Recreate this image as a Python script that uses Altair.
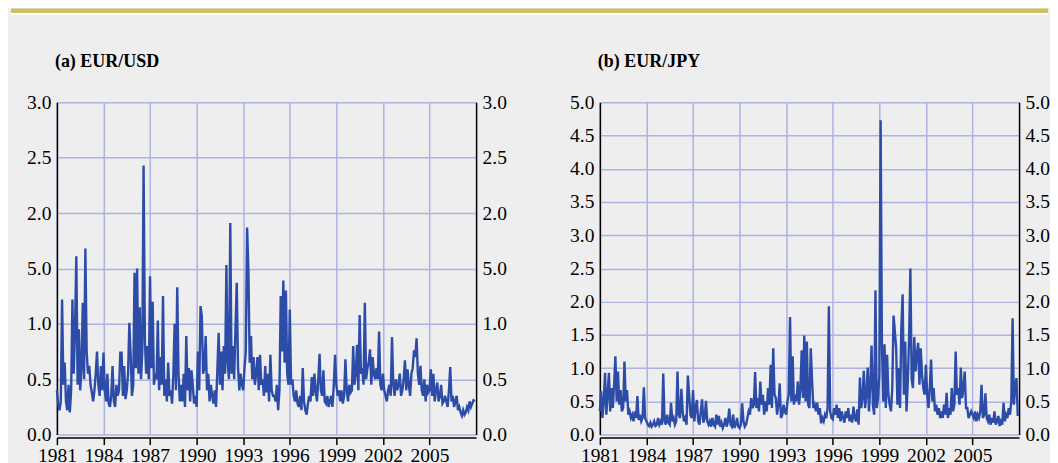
import altair as alt
import pandas as pd

# ---------------- data (monthly readings, 1981-2007) ----------------
first_year = 1981
year_ticks = [1981, 1984, 1987, 1990, 1993, 1996, 1999, 2002, 2005]
usd_ticks = [0.0, 0.5, 1.0, 1.5, 2.0, 2.5, 3.0]
jpy_ticks = [0.0, 0.5, 1.0, 1.5, 2.0, 2.5, 3.0, 3.5, 4.0, 4.5, 5.0]
panel_titles = ["(a) EUR/USD", "(b) EUR/JPY"]

eur_usd = [
    0.40, 0.28, 0.22, 0.30, 1.22, 0.45, 0.65, 0.30, 0.22, 0.45, 0.20, 0.40,  # 1981
    1.22, 0.55, 0.95, 1.61, 0.45, 0.95, 0.40, 0.60, 1.19, 0.50, 1.68, 0.75,  # 1982
    0.55, 0.62, 0.45, 0.38, 0.30, 0.40, 0.55, 0.75, 0.45, 0.35, 0.62, 0.40,  # 1983
    0.74, 0.40, 0.30, 0.55, 0.28, 0.25, 0.35, 0.62, 0.30, 0.25, 0.45, 0.35,  # 1984
    0.40, 0.74, 0.74, 0.35, 0.62, 0.32, 0.40, 0.55, 1.01, 0.72, 0.35, 0.45,  # 1985
    1.46, 0.60, 1.50, 0.55, 1.15, 0.50, 0.75, 2.43, 0.85, 0.55, 0.80, 0.50,  # 1986
    1.43, 0.60, 1.20, 0.45, 0.55, 0.50, 1.03, 0.40, 0.70, 0.45, 1.25, 0.35,  # 1987
    0.50, 0.30, 0.65, 0.35, 0.40, 0.28, 0.55, 1.00, 0.40, 1.33, 0.55, 0.30,  # 1988
    0.45, 0.30, 0.55, 0.25, 0.89, 0.40, 0.60, 0.30, 0.58, 0.45, 0.28, 0.35,  # 1989
    0.25, 0.75, 0.40, 1.16, 1.07, 0.55, 0.60, 0.89, 0.40, 0.55, 0.30, 0.45,  # 1990
    0.35, 0.28, 0.40, 0.25, 0.58, 0.92, 0.45, 0.75, 0.40, 0.80, 0.55, 1.53,  # 1991
    0.65, 0.50, 1.91, 0.55, 0.80, 0.50, 0.95, 1.37, 0.60, 0.40, 0.55, 0.45,  # 1992
    0.40, 0.60, 0.75, 1.87, 1.49, 0.65, 0.89, 0.50, 0.70, 0.45, 0.55, 0.70,  # 1993
    0.40, 0.72, 0.45, 0.50, 0.35, 0.62, 0.38, 0.55, 0.30, 0.72, 0.40, 0.35,  # 1994
    0.35, 0.30, 0.45, 0.22, 0.40, 1.25, 0.75, 1.39, 0.65, 1.30, 0.55, 0.45,  # 1995
    1.13, 0.45, 0.50, 0.35, 0.30, 0.40, 0.28, 0.25, 0.35, 0.22, 0.60, 0.30,  # 1996
    0.22, 0.18, 0.28, 0.35, 0.30, 0.52, 0.35, 0.55, 0.40, 0.30, 0.50, 0.73,  # 1997
    0.40, 0.35, 0.58, 0.30, 0.28, 0.35, 0.25, 0.30, 0.35, 0.25, 0.45, 0.72,  # 1998
    0.45, 0.35, 0.40, 0.30, 0.40, 0.28, 0.35, 0.68, 0.40, 0.30, 0.45, 0.38,  # 1999
    0.40, 0.80, 0.45, 0.55, 0.81, 0.40, 1.08, 0.55, 0.60, 0.45, 1.19, 0.50,  # 2000
    0.60, 0.65, 0.77, 0.45, 0.70, 0.55, 0.50, 0.60, 0.50, 0.93, 0.45, 0.40,  # 2001
    0.55, 0.40, 0.35, 0.30, 0.40, 0.45, 0.35, 0.88, 0.45, 0.35, 0.50, 0.40,  # 2002
    0.45, 0.55, 0.35, 0.40, 0.50, 0.67, 0.40, 0.59, 0.45, 0.35, 0.55, 0.60,  # 2003
    0.76, 0.70, 0.87, 0.55, 0.45, 0.62, 0.40, 0.35, 0.50, 0.30, 0.45, 0.38,  # 2004
    0.40, 0.59, 0.35, 0.55, 0.30, 0.40, 0.47, 0.30, 0.35, 0.45, 0.28, 0.30,  # 2005
    0.35, 0.30, 0.25, 0.40, 0.61, 0.30, 0.35, 0.25, 0.30, 0.35, 0.22, 0.25,  # 2006
    0.20, 0.17, 0.22, 0.18, 0.20, 0.25, 0.22, 0.30, 0.25, 0.28, 0.31, 0.30,  # 2007
]

eur_jpy = [
    0.35, 0.65, 0.25, 0.50, 0.93, 0.30, 0.60, 0.93, 0.35, 0.70, 0.40, 0.75,  # 1981
    1.18, 0.50, 0.95, 0.45, 0.67, 0.35, 0.40, 1.10, 0.50, 0.67, 0.30, 0.35,  # 1982
    0.25, 0.30, 0.20, 0.35, 0.25, 0.58, 0.22, 0.30, 0.20, 0.25, 0.71, 0.25,  # 1983
    0.20, 0.15, 0.13, 0.18, 0.12, 0.15, 0.20, 0.13, 0.15, 0.25, 0.15, 0.20,  # 1984
    0.15, 0.92, 0.20, 0.15, 0.30, 0.18, 0.15, 0.48, 0.20, 0.25, 0.15, 0.20,  # 1985
    0.95, 0.30, 0.25, 0.69, 0.35, 0.20, 0.25, 0.15, 0.89, 0.60, 0.30, 0.25,  # 1986
    0.67, 0.20, 0.40, 0.52, 0.20, 0.15, 0.35, 0.53, 0.18, 0.25, 0.51, 0.20,  # 1987
    0.15, 0.20, 0.12, 0.25, 0.15, 0.12, 0.30, 0.15, 0.28, 0.12, 0.18, 0.10,  # 1988
    0.15, 0.25, 0.12, 0.20, 0.39, 0.15, 0.12, 0.30, 0.10, 0.15, 0.25, 0.12,  # 1989
    0.10, 0.15, 0.47, 0.20, 0.12, 0.15, 0.25, 0.35, 0.30, 0.55, 0.40, 0.45,  # 1990
    0.94, 0.40, 0.55, 0.35, 0.80, 0.45, 0.60, 0.30, 0.50, 0.35, 0.70, 0.45,  # 1991
    1.05, 0.40, 1.30, 0.60, 0.55, 0.30, 0.45, 0.77, 0.25, 0.30, 0.45, 0.35,  # 1992
    0.30, 0.50, 0.60, 1.77, 0.50, 1.18, 0.45, 0.60, 0.50, 0.80, 0.45, 0.70,  # 1993
    1.27, 0.55, 1.49, 0.50, 1.40, 0.45, 0.40, 1.30, 0.82, 0.40, 0.45, 0.35,  # 1994
    0.48, 0.30, 0.40, 0.17, 0.25, 0.20, 0.30, 0.25, 0.40, 1.93, 0.35, 0.25,  # 1995
    0.23, 0.40, 0.30, 0.45, 0.25, 0.40, 0.20, 0.35, 0.25, 0.18, 0.35, 0.25,  # 1996
    0.40, 0.20, 0.30, 0.18, 0.42, 0.25, 0.20, 0.38, 0.15, 0.86, 0.40, 0.55,  # 1997
    0.96, 0.40, 0.60, 1.01, 0.35, 0.75, 1.34, 0.45, 0.30, 2.17, 0.40, 0.55,  # 1998
    0.90, 4.73, 1.36, 0.50, 1.36, 0.40, 1.20, 0.60, 0.45, 0.35, 0.70, 1.79,  # 1999
    1.55, 1.30, 0.45, 1.00, 0.40, 1.60, 2.11, 0.60, 1.40, 0.35, 0.80, 1.45,  # 2000
    2.50, 0.83, 0.70, 1.47, 0.95, 1.20, 1.38, 0.75, 1.30, 0.90, 0.70, 0.60,  # 2001
    1.05, 0.60, 0.40, 0.70, 1.13, 0.50, 0.70, 0.35, 0.45, 0.30, 0.40, 0.25,  # 2002
    0.35, 0.25, 0.45, 0.30, 0.63, 0.25, 0.40, 0.30, 0.70, 0.35, 0.45, 1.25,  # 2003
    0.60, 0.70, 0.45, 1.01, 0.55, 0.70, 0.95, 0.40, 0.40, 0.25, 0.30, 0.35,  # 2004
    0.30, 0.25, 0.35, 0.20, 0.30, 0.25, 0.35, 0.75, 0.25, 0.30, 0.62, 0.25,  # 2005
    0.20, 0.30, 0.15, 0.25, 0.18, 0.35, 0.15, 0.20, 0.28, 0.13, 0.20, 0.15,  # 2006
    0.48, 0.20, 0.30, 0.25, 0.40, 0.30, 0.50, 1.75, 0.45, 0.73, 0.85, 0.28,  # 2007
]

LINE = "#2c4ca8"
GRID = "#adb2e3"
FONT = "Liberation Serif"


def frame(values):
    return pd.DataFrame({
        "t": [first_year + i / 12 for i in range(len(values))],
        "v": values,
    })


def panel(values, title, ymax, yticks, label_expr, band):
    df = frame(values)
    xenc = alt.X(
        "t:Q",
        scale=alt.Scale(domain=[1981, 2008], nice=False, zero=False),
        axis=alt.Axis(values=year_ticks, format="d", grid=True, offset=3,
                      tickSize=7, tickWidth=1.5, tickColor="black",
                      labelFlush=False, labelOverlap=False, labelPadding=2),
        title=None,
    )
    yscale = alt.Scale(domain=[0, ymax], nice=False, zero=True)
    line = alt.Chart(df).mark_line(color=LINE, strokeWidth=2.4,
                                   strokeJoin="miter").encode(
        x=xenc,
        y=alt.Y("v:Q", scale=yscale, title=None,
                axis=alt.Axis(orient="left", values=yticks, labelExpr=label_expr,
                              grid=True, ticks=False, labelPadding=6)),
    )
    right = alt.Chart(df).mark_line(opacity=0).encode(
        x=xenc,
        y=alt.Y("v:Q", scale=yscale, title=None,
                axis=alt.Axis(orient="right", values=yticks, labelExpr=label_expr,
                              grid=False, ticks=False, labelPadding=6)),
    )
    one = pd.DataFrame({"label": [title]})
    head = alt.Chart(one).mark_text(
        font=FONT, fontSize=18, fontWeight="bold", color="black",
        align="left", baseline="alphabetic",
    ).encode(text="label:N", x=alt.value(-2), y=alt.value(-35))
    layers = [head, line, right]
    if band:
        top = alt.Chart(one).mark_rect(color="#cdbf62").encode(
            x=alt.value(-46), x2=alt.value(993), y=alt.value(-94), y2=alt.value(-89.5))
        white = alt.Chart(one).mark_rect(color="#ffffff").encode(
            x=alt.value(-46), x2=alt.value(993), y=alt.value(-89.5), y2=alt.value(-87.5))
        layers = [top, white] + layers
    return alt.layer(*layers).resolve_axis(y="independent").properties(
        width=420, height=333,
    )


fmt = "format(datum.value, '.1f')"
usd_expr = "datum.value == 1.5 ? '5.0' : " + fmt

a = panel(eur_usd, panel_titles[0], 3, usd_ticks, usd_expr, True)
b = panel(eur_jpy, panel_titles[1], 5, jpy_ticks, fmt, False)

chart = alt.hconcat(a, b, spacing=124, bounds="flush").properties(
    padding={"left": 3, "top": 0, "right": 0, "bottom": 0}
).configure(
    background="#eeeeee"
).configure_view(
    strokeWidth=0
).configure_axis(
    labelFont=FONT, labelFontSize=19.5, labelColor="black",
    domainColor="black", domainWidth=1.5,
    gridColor=GRID, gridWidth=1.5, gridOpacity=1,
)

chart.save("out.html", embed_options={"renderer": "svg", "actions": False})
